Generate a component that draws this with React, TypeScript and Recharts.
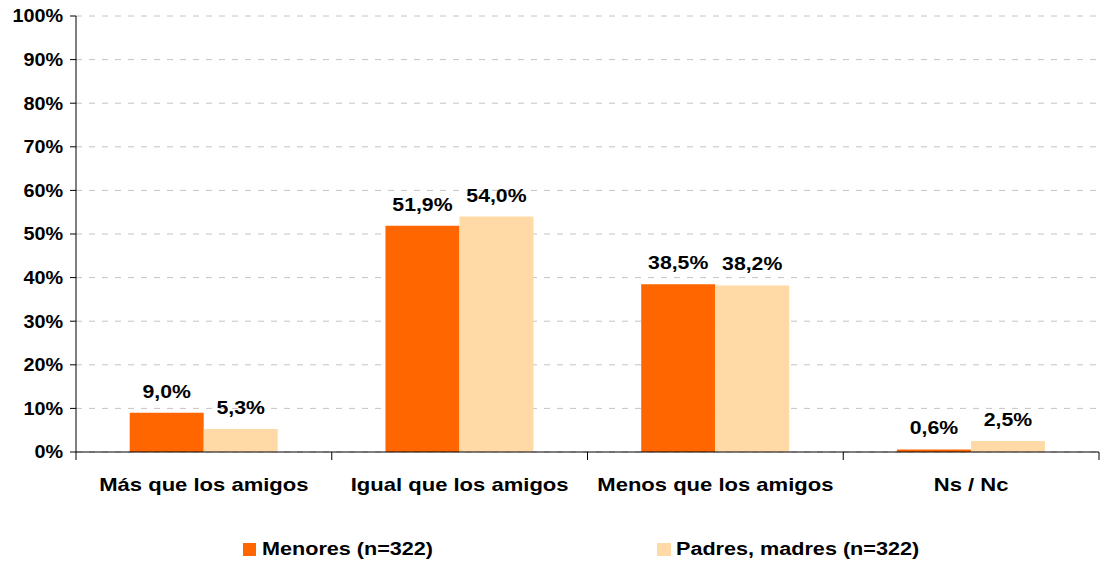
import React from 'react';
import { BarChart, Bar, XAxis, YAxis, CartesianGrid, LabelList } from 'recharts';

const categories = ['Más que los amigos', 'Igual que los amigos', 'Menos que los amigos', 'Ns / Nc'];
const menores = [9.0, 51.9, 38.5, 0.6];
const padres = [5.3, 54.0, 38.2, 2.5];
const yTicks = [0, 10, 20, 30, 40, 50, 60, 70, 80, 90, 100];

const data = categories.map((name, i) => ({ name, menores: menores[i], padres: padres[i] }));

const W = 1113;
const H = 562;
const LEFT = 76;
const RIGHT_MARGIN = 14;
const BAND = (W - LEFT - RIGHT_MARGIN) / categories.length;

const font = "'Liberation Sans', Arial, sans-serif";
const fmt = (v: number) => `${v.toFixed(1).replace('.', ',')}%`;

// the original text is a bit wider than Arial, so stretch it horizontally
const Stretched = ({ x, y, size, sx, anchor, dy, children }: any) => (
  <text
    transform={`translate(${x},${y}) scale(${sx},1)`}
    x={0}
    y={0}
    dy={dy}
    textAnchor={anchor}
    fontFamily={font}
    fontWeight="bold"
    fontSize={size}
    fill="#000"
  >
    {children}
  </text>
);

const XTick = (props: any) => {
  const { x, y, payload, index } = props;
  const left = x - BAND / 2;
  return (
    <g>
      <line x1={left} x2={left} y1={y - 8} y2={y} stroke="#000" />
      {index === categories.length - 1 && (
        <line x1={x + BAND / 2} x2={x + BAND / 2} y1={y - 8} y2={y} stroke="#000" />
      )}
      <Stretched x={x} y={y + 31} size={19} sx={1.16} anchor="middle">
        {payload.value}
      </Stretched>
    </g>
  );
};

const YTick = (props: any) => {
  const { x, y, payload } = props;
  return (
    <Stretched x={x} y={y} size={18} sx={1.1} anchor="end" dy="0.36em">
      {`${payload.value}%`}
    </Stretched>
  );
};

const BarLabel = (props: any) => {
  const { x, y, width, value } = props;
  return (
    <Stretched x={Number(x) + Number(width) / 2} y={Number(y) - 15} size={18} sx={1.18} anchor="middle">
      {fmt(Number(value))}
    </Stretched>
  );
};

const legendStyle: React.CSSProperties = {
  position: 'absolute',
  top: 539,
  display: 'flex',
  alignItems: 'center',
  fontFamily: font,
  fontWeight: 'bold',
  fontSize: 18,
};

const legendText: React.CSSProperties = {
  display: 'inline-block',
  transform: 'scaleX(1.2)',
  transformOrigin: 'left center',
};

export default function App() {
  return (
    <div style={{ position: 'absolute', left: 0, top: 0, width: W, height: H, background: '#fff' }}>
      <BarChart
        width={W}
        height={H}
        data={data}
        margin={{ top: 16, right: RIGHT_MARGIN, left: 0, bottom: 60 }}
        barGap={0}
        barCategoryGap="21%"
      >
        <CartesianGrid vertical={false} stroke="#c4c4c4" strokeDasharray="6 7" />
        <XAxis
          dataKey="name"
          height={50}
          interval={0}
          axisLine={{ stroke: '#000' }}
          tickLine={false}
          tick={<XTick />}
        />
        <YAxis
          width={LEFT}
          domain={[0, 100]}
          ticks={yTicks}
          interval={0}
          axisLine={{ stroke: '#000' }}
          tickLine={{ stroke: '#000' }}
          tickSize={6}
          tickMargin={7}
          tick={<YTick />}
        />
        <Bar dataKey="menores" fill="#FF6600" isAnimationActive={false}>
          <LabelList dataKey="menores" content={<BarLabel />} />
        </Bar>
        <Bar dataKey="padres" fill="#FFDAA6" isAnimationActive={false}>
          <LabelList dataKey="padres" content={<BarLabel />} />
        </Bar>
      </BarChart>
      <div style={{ ...legendStyle, left: 243 }}>
        <span style={{ display: 'inline-block', width: 13, height: 13, background: '#FF6600', marginRight: 6 }} />
        <span style={legendText}>Menores (n=322)</span>
      </div>
      <div style={{ ...legendStyle, left: 657 }}>
        <span style={{ display: 'inline-block', width: 14, height: 13, background: '#FFDAA6', marginRight: 5 }} />
        <span style={legendText}>Padres, madres (n=322)</span>
      </div>
    </div>
  );
}
